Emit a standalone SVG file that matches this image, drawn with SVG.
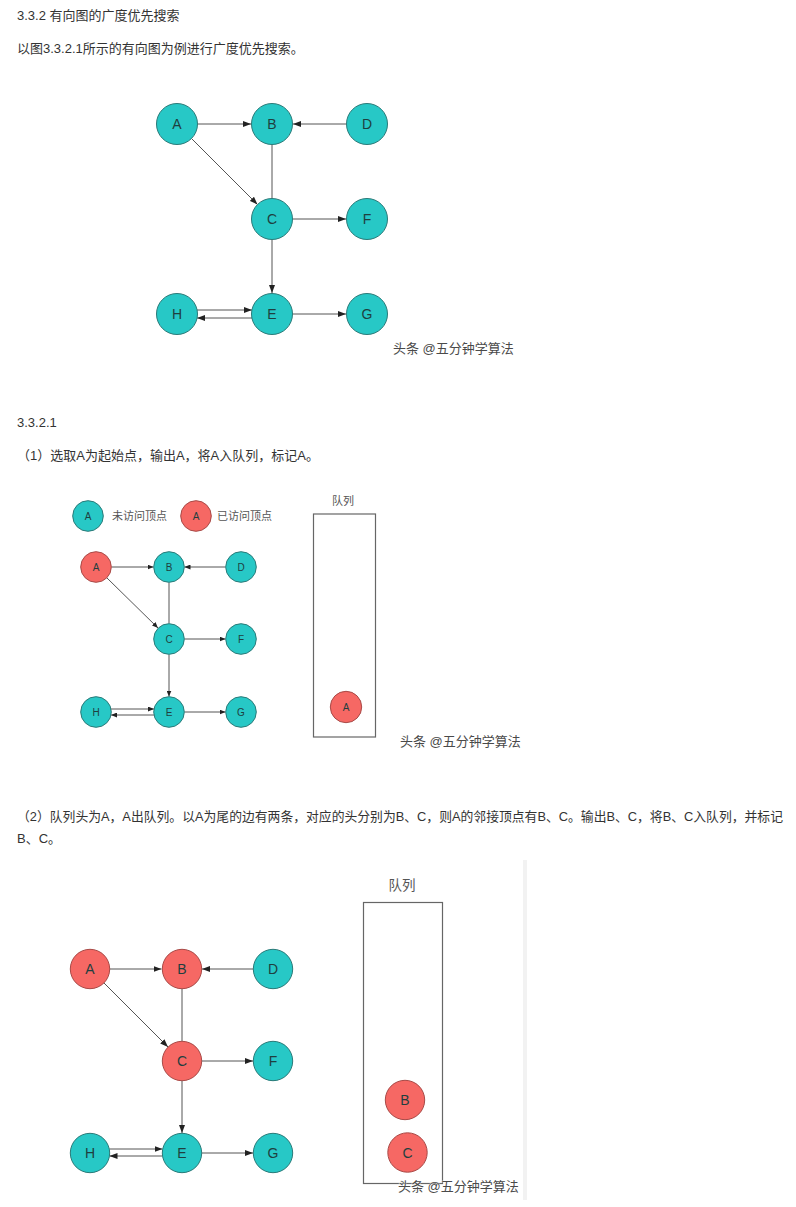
<svg xmlns="http://www.w3.org/2000/svg" width="796" height="1207" viewBox="0 0 796 1207">
<style>
.t{font-family:"Liberation Sans","Noto Sans CJK SC",sans-serif;font-size:13px;fill:#333}
.u{fill:#27c8c6;stroke:#2a7a78;stroke-width:1}
.v{fill:#f66864;stroke:#a84a47;stroke-width:1}
.l{font-family:"Liberation Sans","Noto Sans CJK SC",sans-serif;fill:#1f3f3f;text-anchor:middle;dominant-baseline:central}
.l14{font-size:14px}
.l10{font-size:10px}
.e{stroke:#555;stroke-width:1;fill:none}
.wm{font-family:"Liberation Sans","Noto Sans CJK SC",sans-serif;font-size:13px;fill:#4a4a4a;stroke:#fff;stroke-width:0.6;paint-order:stroke}
.q{fill:none;stroke:#666;stroke-width:1.2}
.g{font-family:"Liberation Sans","Noto Sans CJK SC",sans-serif;fill:#555}
</style>
<defs>
<marker id="ar" markerWidth="8" markerHeight="6" refX="8" refY="3" orient="auto" markerUnits="userSpaceOnUse">
<path d="M0,0 L8,3 L0,6 z" fill="#222"/>
</marker>
<marker id="as" markerWidth="6" markerHeight="5" refX="6" refY="2.5" orient="auto" markerUnits="userSpaceOnUse">
<path d="M0,0 L6,2.5 L0,5 z" fill="#222"/>
</marker>
</defs>
<rect width="796" height="1207" fill="#fff"/>

<g id="texts">
<text class="t" x="17" y="20">3.3.2 有向图的广度优先搜索</text>
<text class="t" x="17" y="53">以图3.3.2.1所示的有向图为例进行广度优先搜索。</text>
<text class="t" x="17" y="427">3.3.2.1</text>
<text class="t" x="17" y="460">（1）选取A为起始点，输出A，将A入队列，标记A。</text>
<text class="t" x="17" y="821" textLength="766" lengthAdjust="spacingAndGlyphs">（2）队列头为A，A出队列。以A为尾的边有两条，对应的头分别为B、C，则A的邻接顶点有B、C。输出B、C，将B、C入队列，并标记</text>
<text class="t" x="17" y="843">B、C。</text>
</g>

<!-- Figure 1 -->
<g id="fig1-connectors">
<line class="e" x1="198" y1="124" x2="251" y2="124" marker-end="url(#ar)"/>
<line class="e" x1="346" y1="124" x2="293" y2="124" marker-end="url(#ar)"/>
<line class="e" x1="272" y1="145" x2="272" y2="198"/>
<line class="e" x1="191.5" y1="138.5" x2="257.5" y2="204.5" marker-end="url(#ar)"/>
<line class="e" x1="293" y1="219" x2="346" y2="219" marker-end="url(#ar)"/>
<line class="e" x1="272" y1="240" x2="272" y2="293" marker-end="url(#ar)"/>
<line class="e" x1="197" y1="310" x2="252" y2="310" marker-end="url(#ar)"/>
<line class="e" x1="252" y1="318" x2="197" y2="318" marker-end="url(#ar)"/>
<line class="e" x1="293" y1="314" x2="346" y2="314" marker-end="url(#ar)"/>
</g>
<g id="f1-A"><circle class="u" cx="177" cy="124" r="20.5"/><text class="l l14" x="177" y="124">A</text></g>
<g id="f1-B"><circle class="u" cx="272" cy="124" r="20.5"/><text class="l l14" x="272" y="124">B</text></g>
<g id="f1-D"><circle class="u" cx="367" cy="124" r="20.5"/><text class="l l14" x="367" y="124">D</text></g>
<g id="f1-C"><circle class="u" cx="272" cy="219" r="20.5"/><text class="l l14" x="272" y="219">C</text></g>
<g id="f1-F"><circle class="u" cx="367" cy="219" r="20.5"/><text class="l l14" x="367" y="219">F</text></g>
<g id="f1-H"><circle class="u" cx="177" cy="314" r="20.5"/><text class="l l14" x="177" y="314">H</text></g>
<g id="f1-E"><circle class="u" cx="272" cy="314" r="20.5"/><text class="l l14" x="272" y="314">E</text></g>
<g id="f1-G"><circle class="u" cx="367" cy="314" r="20.5"/><text class="l l14" x="367" y="314">G</text></g>
<text class="wm" x="393" y="353">头条 @五分钟学算法</text>

<!-- Figure 2 -->
<g id="legend">
<circle class="u" cx="88" cy="516" r="15.3"/><text class="l l10" x="88" y="516">A</text>
<text class="g" x="112" y="520" font-size="11">未访问顶点</text>
<circle class="v" cx="196" cy="516" r="15.3"/><text class="l l10" x="196" y="516">A</text>
<text class="g" x="217" y="520" font-size="11">已访问顶点</text>
</g>
<g id="fig2-connectors">
<line class="e" x1="111.5" y1="567" x2="153.5" y2="567" marker-end="url(#as)"/>
<line class="e" x1="225.5" y1="567" x2="184.5" y2="567" marker-end="url(#as)"/>
<line class="e" x1="169" y1="582.5" x2="169" y2="623.5"/>
<line class="e" x1="107" y1="578" x2="158" y2="628" marker-end="url(#as)"/>
<line class="e" x1="184.5" y1="639" x2="225.5" y2="639" marker-end="url(#as)"/>
<line class="e" x1="169" y1="654.5" x2="169" y2="696.5" marker-end="url(#as)"/>
<line class="e" x1="111" y1="709" x2="154" y2="709" marker-end="url(#as)"/>
<line class="e" x1="154" y1="715" x2="111" y2="715" marker-end="url(#as)"/>
<line class="e" x1="184.5" y1="712" x2="225.5" y2="712" marker-end="url(#as)"/>
</g>
<g id="f2-A"><circle class="v" cx="96" cy="567" r="15.3"/><text class="l l10" x="96" y="567">A</text></g>
<g id="f2-B"><circle class="u" cx="169" cy="567" r="15.3"/><text class="l l10" x="169" y="567">B</text></g>
<g id="f2-D"><circle class="u" cx="241" cy="567" r="15.3"/><text class="l l10" x="241" y="567">D</text></g>
<g id="f2-C"><circle class="u" cx="169" cy="639" r="15.3"/><text class="l l10" x="169" y="639">C</text></g>
<g id="f2-F"><circle class="u" cx="241" cy="639" r="15.3"/><text class="l l10" x="241" y="639">F</text></g>
<g id="f2-H"><circle class="u" cx="96" cy="712" r="15.3"/><text class="l l10" x="96" y="712">H</text></g>
<g id="f2-E"><circle class="u" cx="169" cy="712" r="15.3"/><text class="l l10" x="169" y="712">E</text></g>
<g id="f2-G"><circle class="u" cx="241" cy="712" r="15.3"/><text class="l l10" x="241" y="712">G</text></g>
<g id="queue1">
<text class="g" x="343" y="504.5" font-size="11" text-anchor="middle">队列</text>
<rect class="q" x="313.5" y="514" width="62" height="223"/>
<circle class="v" cx="346" cy="707" r="15.7"/><text class="l l10" x="346" y="707">A</text>
</g>
<text class="wm" x="400" y="745.5">头条 @五分钟学算法</text>

<!-- Figure 3 -->
<rect x="523" y="860" width="4" height="340" fill="#f2f2f2"/>
<g id="fig3-connectors">
<line class="e" x1="110" y1="969" x2="161.5" y2="969" marker-end="url(#ar)"/>
<line class="e" x1="253" y1="969" x2="202" y2="969" marker-end="url(#ar)"/>
<line class="e" x1="182" y1="989" x2="182" y2="1041"/>
<line class="e" x1="104" y1="983" x2="168" y2="1047" marker-end="url(#ar)"/>
<line class="e" x1="202" y1="1061" x2="253" y2="1061" marker-end="url(#ar)"/>
<line class="e" x1="182" y1="1081" x2="182" y2="1133" marker-end="url(#ar)"/>
<line class="e" x1="109.5" y1="1149" x2="162.5" y2="1149" marker-end="url(#ar)"/>
<line class="e" x1="162.5" y1="1156" x2="109.5" y2="1156" marker-end="url(#ar)"/>
<line class="e" x1="202" y1="1153" x2="253" y2="1153" marker-end="url(#ar)"/>
</g>
<g id="f3-A"><circle class="v" cx="90" cy="969" r="19.7"/><text class="l l14" x="90" y="969">A</text></g>
<g id="f3-B"><circle class="v" cx="182" cy="969" r="19.7"/><text class="l l14" x="182" y="969">B</text></g>
<g id="f3-D"><circle class="u" cx="273" cy="969" r="19.7"/><text class="l l14" x="273" y="969">D</text></g>
<g id="f3-C"><circle class="v" cx="182" cy="1061" r="19.7"/><text class="l l14" x="182" y="1061">C</text></g>
<g id="f3-F"><circle class="u" cx="273" cy="1061" r="19.7"/><text class="l l14" x="273" y="1061">F</text></g>
<g id="f3-H"><circle class="u" cx="90" cy="1153" r="19.7"/><text class="l l14" x="90" y="1153">H</text></g>
<g id="f3-E"><circle class="u" cx="182" cy="1153" r="19.7"/><text class="l l14" x="182" y="1153">E</text></g>
<g id="f3-G"><circle class="u" cx="273" cy="1153" r="19.7"/><text class="l l14" x="273" y="1153">G</text></g>
<g id="queue2">
<text class="g" x="402" y="890" font-size="13.5" text-anchor="middle">队列</text>
<rect class="q" x="363.5" y="902.5" width="79" height="281"/>
<circle class="v" cx="405" cy="1100" r="19.7"/><text class="l l14" x="405" y="1100">B</text>
<circle class="v" cx="407.5" cy="1152.5" r="19.7"/><text class="l l14" x="407.5" y="1152.5">C</text>
</g>
<text class="wm" x="398" y="1191">头条 @五分钟学算法</text>
</svg>
